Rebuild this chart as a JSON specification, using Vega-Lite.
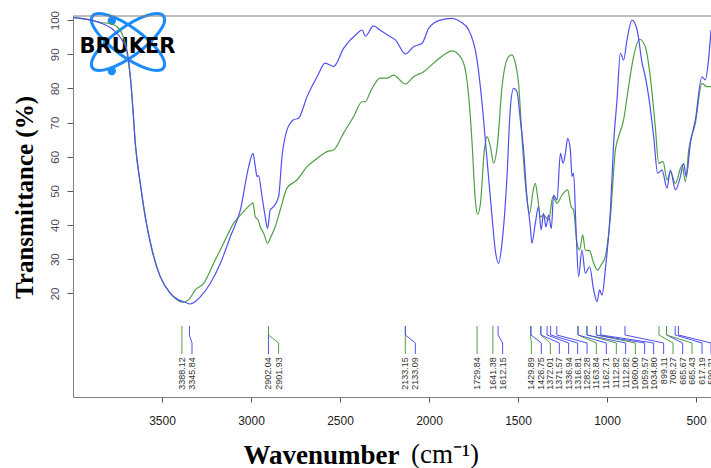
{
  "$schema": "https://vega.github.io/schema/vega-lite/v6.json",
  "width": 638,
  "height": 381,
  "autosize": {"type": "none"},
  "padding": {"left": 73, "top": 16, "right": 0, "bottom": 71},
  "background": "white",
  "config": {"view": {"stroke": null}, "font": "Liberation Sans"},
  "title": {
    "text": "(cm⁻¹)",
    "orient": "bottom",
    "anchor": "start",
    "frame": "group",
    "dx": 338,
    "offset": -5,
    "font": "Liberation Serif",
    "fontSize": 27,
    "fontWeight": "normal",
    "color": "black",
    "baseline": "alphabetic"
  },
  "datasets": {
    "spectra": [
      {"wn": 4000, "T": 100.8, "series": "Spectrum A"},
      {"wn": 3884, "T": 99.8, "series": "Spectrum A"},
      {"wn": 3847, "T": 99.3, "series": "Spectrum A"},
      {"wn": 3790, "T": 99.0, "series": "Spectrum A"},
      {"wn": 3753, "T": 98.1, "series": "Spectrum A"},
      {"wn": 3725, "T": 96.1, "series": "Spectrum A"},
      {"wn": 3706, "T": 93.2, "series": "Spectrum A"},
      {"wn": 3688, "T": 87.4, "series": "Spectrum A"},
      {"wn": 3678, "T": 83.4, "series": "Spectrum A"},
      {"wn": 3663, "T": 73.7, "series": "Spectrum A"},
      {"wn": 3650, "T": 63.9, "series": "Spectrum A"},
      {"wn": 3622, "T": 52.2, "series": "Spectrum A"},
      {"wn": 3594, "T": 42.4, "series": "Spectrum A"},
      {"wn": 3556, "T": 32.7, "series": "Spectrum A"},
      {"wn": 3510, "T": 24.9, "series": "Spectrum A"},
      {"wn": 3453, "T": 20.0, "series": "Spectrum A"},
      {"wn": 3416, "T": 18.1, "series": "Spectrum A"},
      {"wn": 3388, "T": 17.4, "series": "Spectrum A"},
      {"wn": 3351, "T": 18.1, "series": "Spectrum A"},
      {"wn": 3313, "T": 21.0, "series": "Spectrum A"},
      {"wn": 3266, "T": 22.9, "series": "Spectrum A"},
      {"wn": 3210, "T": 28.8, "series": "Spectrum A"},
      {"wn": 3154, "T": 34.7, "series": "Spectrum A"},
      {"wn": 3098, "T": 40.5, "series": "Spectrum A"},
      {"wn": 3051, "T": 43.4, "series": "Spectrum A"},
      {"wn": 3004, "T": 45.9, "series": "Spectrum A"},
      {"wn": 2989, "T": 46.5, "series": "Spectrum A"},
      {"wn": 2976, "T": 42.4, "series": "Spectrum A"},
      {"wn": 2960, "T": 41.5, "series": "Spectrum A"},
      {"wn": 2948, "T": 39.5, "series": "Spectrum A"},
      {"wn": 2929, "T": 37.6, "series": "Spectrum A"},
      {"wn": 2907, "T": 34.7, "series": "Spectrum A"},
      {"wn": 2888, "T": 36.6, "series": "Spectrum A"},
      {"wn": 2864, "T": 39.5, "series": "Spectrum A"},
      {"wn": 2836, "T": 44.4, "series": "Spectrum A"},
      {"wn": 2798, "T": 50.8, "series": "Spectrum A"},
      {"wn": 2742, "T": 53.2, "series": "Spectrum A"},
      {"wn": 2685, "T": 57.1, "series": "Spectrum A"},
      {"wn": 2629, "T": 59.5, "series": "Spectrum A"},
      {"wn": 2573, "T": 61.5, "series": "Spectrum A"},
      {"wn": 2536, "T": 62.0, "series": "Spectrum A"},
      {"wn": 2480, "T": 66.9, "series": "Spectrum A"},
      {"wn": 2424, "T": 71.7, "series": "Spectrum A"},
      {"wn": 2376, "T": 76.1, "series": "Spectrum A"},
      {"wn": 2358, "T": 76.1, "series": "Spectrum A"},
      {"wn": 2330, "T": 79.0, "series": "Spectrum A"},
      {"wn": 2274, "T": 83.0, "series": "Spectrum A"},
      {"wn": 2236, "T": 83.0, "series": "Spectrum A"},
      {"wn": 2199, "T": 83.9, "series": "Spectrum A"},
      {"wn": 2133, "T": 81.3, "series": "Spectrum A"},
      {"wn": 2087, "T": 83.4, "series": "Spectrum A"},
      {"wn": 2030, "T": 84.9, "series": "Spectrum A"},
      {"wn": 1974, "T": 87.4, "series": "Spectrum A"},
      {"wn": 1918, "T": 89.8, "series": "Spectrum A"},
      {"wn": 1871, "T": 91.0, "series": "Spectrum A"},
      {"wn": 1824, "T": 89.3, "series": "Spectrum A"},
      {"wn": 1796, "T": 85.4, "series": "Spectrum A"},
      {"wn": 1777, "T": 77.6, "series": "Spectrum A"},
      {"wn": 1758, "T": 63.9, "series": "Spectrum A"},
      {"wn": 1740, "T": 47.3, "series": "Spectrum A"},
      {"wn": 1727, "T": 43.2, "series": "Spectrum A"},
      {"wn": 1711, "T": 46.4, "series": "Spectrum A"},
      {"wn": 1689, "T": 62.0, "series": "Spectrum A"},
      {"wn": 1674, "T": 65.9, "series": "Spectrum A"},
      {"wn": 1655, "T": 62.9, "series": "Spectrum A"},
      {"wn": 1637, "T": 58.1, "series": "Spectrum A"},
      {"wn": 1615, "T": 63.9, "series": "Spectrum A"},
      {"wn": 1590, "T": 80.5, "series": "Spectrum A"},
      {"wn": 1553, "T": 89.3, "series": "Spectrum A"},
      {"wn": 1534, "T": 89.8, "series": "Spectrum A"},
      {"wn": 1515, "T": 87.4, "series": "Spectrum A"},
      {"wn": 1497, "T": 81.5, "series": "Spectrum A"},
      {"wn": 1478, "T": 65.9, "series": "Spectrum A"},
      {"wn": 1459, "T": 52.2, "series": "Spectrum A"},
      {"wn": 1435, "T": 43.4, "series": "Spectrum A"},
      {"wn": 1416, "T": 49.8, "series": "Spectrum A"},
      {"wn": 1403, "T": 52.2, "series": "Spectrum A"},
      {"wn": 1390, "T": 48.3, "series": "Spectrum A"},
      {"wn": 1374, "T": 42.4, "series": "Spectrum A"},
      {"wn": 1357, "T": 42.9, "series": "Spectrum A"},
      {"wn": 1328, "T": 41.5, "series": "Spectrum A"},
      {"wn": 1304, "T": 48.3, "series": "Spectrum A"},
      {"wn": 1281, "T": 46.4, "series": "Spectrum A"},
      {"wn": 1253, "T": 48.8, "series": "Spectrum A"},
      {"wn": 1221, "T": 50.3, "series": "Spectrum A"},
      {"wn": 1202, "T": 45.4, "series": "Spectrum A"},
      {"wn": 1188, "T": 44.4, "series": "Spectrum A"},
      {"wn": 1169, "T": 34.7, "series": "Spectrum A"},
      {"wn": 1154, "T": 32.7, "series": "Spectrum A"},
      {"wn": 1137, "T": 37.1, "series": "Spectrum A"},
      {"wn": 1122, "T": 32.7, "series": "Spectrum A"},
      {"wn": 1098, "T": 32.5, "series": "Spectrum A"},
      {"wn": 1075, "T": 28.8, "series": "Spectrum A"},
      {"wn": 1053, "T": 26.8, "series": "Spectrum A"},
      {"wn": 1034, "T": 28.3, "series": "Spectrum A"},
      {"wn": 1010, "T": 30.7, "series": "Spectrum A"},
      {"wn": 981, "T": 42.4, "series": "Spectrum A"},
      {"wn": 953, "T": 62.0, "series": "Spectrum A"},
      {"wn": 935, "T": 65.9, "series": "Spectrum A"},
      {"wn": 907, "T": 70.8, "series": "Spectrum A"},
      {"wn": 879, "T": 80.5, "series": "Spectrum A"},
      {"wn": 851, "T": 89.3, "series": "Spectrum A"},
      {"wn": 817, "T": 94.4, "series": "Spectrum A"},
      {"wn": 785, "T": 92.2, "series": "Spectrum A"},
      {"wn": 757, "T": 83.4, "series": "Spectrum A"},
      {"wn": 729, "T": 68.8, "series": "Spectrum A"},
      {"wn": 710, "T": 58.1, "series": "Spectrum A"},
      {"wn": 685, "T": 58.6, "series": "Spectrum A"},
      {"wn": 663, "T": 53.2, "series": "Spectrum A"},
      {"wn": 644, "T": 55.6, "series": "Spectrum A"},
      {"wn": 616, "T": 52.2, "series": "Spectrum A"},
      {"wn": 578, "T": 57.6, "series": "Spectrum A"},
      {"wn": 560, "T": 52.7, "series": "Spectrum A"},
      {"wn": 541, "T": 62.0, "series": "Spectrum A"},
      {"wn": 504, "T": 69.8, "series": "Spectrum A"},
      {"wn": 467, "T": 81.5, "series": "Spectrum A"},
      {"wn": 438, "T": 80.5, "series": "Spectrum A"},
      {"wn": 416, "T": 80.5, "series": "Spectrum A"},

      {"wn": 4000, "T": 100.8, "series": "Spectrum B"},
      {"wn": 3884, "T": 99.8, "series": "Spectrum B"},
      {"wn": 3847, "T": 99.2, "series": "Spectrum B"},
      {"wn": 3772, "T": 97.1, "series": "Spectrum B"},
      {"wn": 3725, "T": 94.2, "series": "Spectrum B"},
      {"wn": 3697, "T": 91.2, "series": "Spectrum B"},
      {"wn": 3678, "T": 83.4, "series": "Spectrum B"},
      {"wn": 3663, "T": 73.7, "series": "Spectrum B"},
      {"wn": 3650, "T": 63.9, "series": "Spectrum B"},
      {"wn": 3622, "T": 52.2, "series": "Spectrum B"},
      {"wn": 3594, "T": 42.4, "series": "Spectrum B"},
      {"wn": 3556, "T": 32.7, "series": "Spectrum B"},
      {"wn": 3510, "T": 24.9, "series": "Spectrum B"},
      {"wn": 3453, "T": 20.0, "series": "Spectrum B"},
      {"wn": 3407, "T": 18.1, "series": "Spectrum B"},
      {"wn": 3369, "T": 17.4, "series": "Spectrum B"},
      {"wn": 3341, "T": 16.9, "series": "Spectrum B"},
      {"wn": 3322, "T": 17.3, "series": "Spectrum B"},
      {"wn": 3285, "T": 19.0, "series": "Spectrum B"},
      {"wn": 3229, "T": 22.9, "series": "Spectrum B"},
      {"wn": 3172, "T": 28.8, "series": "Spectrum B"},
      {"wn": 3116, "T": 36.6, "series": "Spectrum B"},
      {"wn": 3060, "T": 44.4, "series": "Spectrum B"},
      {"wn": 3013, "T": 57.1, "series": "Spectrum B"},
      {"wn": 2989, "T": 61.0, "series": "Spectrum B"},
      {"wn": 2976, "T": 57.1, "series": "Spectrum B"},
      {"wn": 2966, "T": 54.2, "series": "Spectrum B"},
      {"wn": 2958, "T": 54.5, "series": "Spectrum B"},
      {"wn": 2938, "T": 48.3, "series": "Spectrum B"},
      {"wn": 2920, "T": 42.4, "series": "Spectrum B"},
      {"wn": 2907, "T": 39.0, "series": "Spectrum B"},
      {"wn": 2892, "T": 44.4, "series": "Spectrum B"},
      {"wn": 2873, "T": 45.4, "series": "Spectrum B"},
      {"wn": 2845, "T": 48.3, "series": "Spectrum B"},
      {"wn": 2826, "T": 60.0, "series": "Spectrum B"},
      {"wn": 2798, "T": 67.8, "series": "Spectrum B"},
      {"wn": 2761, "T": 70.8, "series": "Spectrum B"},
      {"wn": 2733, "T": 71.3, "series": "Spectrum B"},
      {"wn": 2685, "T": 77.6, "series": "Spectrum B"},
      {"wn": 2629, "T": 83.4, "series": "Spectrum B"},
      {"wn": 2583, "T": 87.4, "series": "Spectrum B"},
      {"wn": 2536, "T": 86.4, "series": "Spectrum B"},
      {"wn": 2480, "T": 91.7, "series": "Spectrum B"},
      {"wn": 2404, "T": 96.1, "series": "Spectrum B"},
      {"wn": 2376, "T": 97.1, "series": "Spectrum B"},
      {"wn": 2358, "T": 95.3, "series": "Spectrum B"},
      {"wn": 2311, "T": 98.3, "series": "Spectrum B"},
      {"wn": 2274, "T": 97.0, "series": "Spectrum B"},
      {"wn": 2217, "T": 95.1, "series": "Spectrum B"},
      {"wn": 2189, "T": 94.2, "series": "Spectrum B"},
      {"wn": 2133, "T": 90.1, "series": "Spectrum B"},
      {"wn": 2087, "T": 92.2, "series": "Spectrum B"},
      {"wn": 2039, "T": 93.2, "series": "Spectrum B"},
      {"wn": 2002, "T": 97.6, "series": "Spectrum B"},
      {"wn": 1937, "T": 100.0, "series": "Spectrum B"},
      {"wn": 1871, "T": 100.5, "series": "Spectrum B"},
      {"wn": 1824, "T": 99.5, "series": "Spectrum B"},
      {"wn": 1777, "T": 97.1, "series": "Spectrum B"},
      {"wn": 1730, "T": 88.3, "series": "Spectrum B"},
      {"wn": 1702, "T": 75.6, "series": "Spectrum B"},
      {"wn": 1674, "T": 59.0, "series": "Spectrum B"},
      {"wn": 1646, "T": 42.4, "series": "Spectrum B"},
      {"wn": 1628, "T": 32.7, "series": "Spectrum B"},
      {"wn": 1609, "T": 28.8, "series": "Spectrum B"},
      {"wn": 1590, "T": 34.7, "series": "Spectrum B"},
      {"wn": 1562, "T": 54.2, "series": "Spectrum B"},
      {"wn": 1544, "T": 73.7, "series": "Spectrum B"},
      {"wn": 1525, "T": 80.0, "series": "Spectrum B"},
      {"wn": 1506, "T": 79.0, "series": "Spectrum B"},
      {"wn": 1487, "T": 70.8, "series": "Spectrum B"},
      {"wn": 1469, "T": 62.0, "series": "Spectrum B"},
      {"wn": 1450, "T": 48.3, "series": "Spectrum B"},
      {"wn": 1431, "T": 39.5, "series": "Spectrum B"},
      {"wn": 1422, "T": 34.7, "series": "Spectrum B"},
      {"wn": 1403, "T": 40.5, "series": "Spectrum B"},
      {"wn": 1385, "T": 45.4, "series": "Spectrum B"},
      {"wn": 1370, "T": 38.6, "series": "Spectrum B"},
      {"wn": 1357, "T": 43.4, "series": "Spectrum B"},
      {"wn": 1343, "T": 39.5, "series": "Spectrum B"},
      {"wn": 1328, "T": 42.9, "series": "Spectrum B"},
      {"wn": 1313, "T": 39.0, "series": "Spectrum B"},
      {"wn": 1300, "T": 48.8, "series": "Spectrum B"},
      {"wn": 1281, "T": 47.3, "series": "Spectrum B"},
      {"wn": 1262, "T": 61.0, "series": "Spectrum B"},
      {"wn": 1247, "T": 58.1, "series": "Spectrum B"},
      {"wn": 1234, "T": 61.0, "series": "Spectrum B"},
      {"wn": 1221, "T": 65.4, "series": "Spectrum B"},
      {"wn": 1206, "T": 62.0, "series": "Spectrum B"},
      {"wn": 1197, "T": 54.2, "series": "Spectrum B"},
      {"wn": 1188, "T": 55.2, "series": "Spectrum B"},
      {"wn": 1174, "T": 38.6, "series": "Spectrum B"},
      {"wn": 1160, "T": 24.9, "series": "Spectrum B"},
      {"wn": 1141, "T": 32.7, "series": "Spectrum B"},
      {"wn": 1122, "T": 25.9, "series": "Spectrum B"},
      {"wn": 1098, "T": 27.8, "series": "Spectrum B"},
      {"wn": 1075, "T": 21.0, "series": "Spectrum B"},
      {"wn": 1056, "T": 17.6, "series": "Spectrum B"},
      {"wn": 1042, "T": 21.0, "series": "Spectrum B"},
      {"wn": 1028, "T": 19.5, "series": "Spectrum B"},
      {"wn": 1010, "T": 26.8, "series": "Spectrum B"},
      {"wn": 981, "T": 44.4, "series": "Spectrum B"},
      {"wn": 963, "T": 63.9, "series": "Spectrum B"},
      {"wn": 944, "T": 76.6, "series": "Spectrum B"},
      {"wn": 925, "T": 90.3, "series": "Spectrum B"},
      {"wn": 907, "T": 88.3, "series": "Spectrum B"},
      {"wn": 888, "T": 94.2, "series": "Spectrum B"},
      {"wn": 860, "T": 100.0, "series": "Spectrum B"},
      {"wn": 831, "T": 97.1, "series": "Spectrum B"},
      {"wn": 803, "T": 87.4, "series": "Spectrum B"},
      {"wn": 785, "T": 83.4, "series": "Spectrum B"},
      {"wn": 766, "T": 77.6, "series": "Spectrum B"},
      {"wn": 738, "T": 65.9, "series": "Spectrum B"},
      {"wn": 716, "T": 55.2, "series": "Spectrum B"},
      {"wn": 691, "T": 56.1, "series": "Spectrum B"},
      {"wn": 663, "T": 50.8, "series": "Spectrum B"},
      {"wn": 644, "T": 56.1, "series": "Spectrum B"},
      {"wn": 616, "T": 50.3, "series": "Spectrum B"},
      {"wn": 588, "T": 54.2, "series": "Spectrum B"},
      {"wn": 570, "T": 58.1, "series": "Spectrum B"},
      {"wn": 555, "T": 54.2, "series": "Spectrum B"},
      {"wn": 532, "T": 63.9, "series": "Spectrum B"},
      {"wn": 504, "T": 70.8, "series": "Spectrum B"},
      {"wn": 467, "T": 83.4, "series": "Spectrum B"},
      {"wn": 448, "T": 82.5, "series": "Spectrum B"},
      {"wn": 430, "T": 88.3, "series": "Spectrum B"},
      {"wn": 416, "T": 97.1, "series": "Spectrum B"}
    ],
    "peaks": [
      {"peak": 3388.12, "pos": 3388.12, "label": "3388.12", "series": "Spectrum A"},
      {"peak": 3345.84, "pos": 3331.5, "label": "3345.84", "series": "Spectrum B"},
      {"peak": 2902.04, "pos": 2902.04, "label": "2902.04", "series": "Spectrum B"},
      {"peak": 2901.93, "pos": 2845, "label": "2901.93", "series": "Spectrum A"},
      {"peak": 2133.15, "pos": 2133.15, "label": "2133.15", "series": "Spectrum A"},
      {"peak": 2133.09, "pos": 2077, "label": "2133.09", "series": "Spectrum B"},
      {"peak": 1729.84, "pos": 1729.84, "label": "1729.84", "series": "Spectrum A"},
      {"peak": 1641.38, "pos": 1641.38, "label": "1641.38", "series": "Spectrum A"},
      {"peak": 1612.15, "pos": 1586.5, "label": "1612.15", "series": "Spectrum B"},
      {"peak": 1429.89, "pos": 1425.3, "label": "1429.89", "series": "Spectrum A"},
      {"peak": 1426.75, "pos": 1369.1, "label": "1426.75", "series": "Spectrum B"},
      {"peak": 1372.01, "pos": 1318.5, "label": "1372.01", "series": "Spectrum A"},
      {"peak": 1371.57, "pos": 1268, "label": "1371.57", "series": "Spectrum B"},
      {"peak": 1336.94, "pos": 1215.7, "label": "1336.94", "series": "Spectrum B"},
      {"peak": 1316.81, "pos": 1165.2, "label": "1316.81", "series": "Spectrum B"},
      {"peak": 1282.28, "pos": 1112.4, "label": "1282.28", "series": "Spectrum B"},
      {"peak": 1163.84, "pos": 1060.1, "label": "1163.84", "series": "Spectrum A"},
      {"peak": 1162.71, "pos": 1004, "label": "1162.71", "series": "Spectrum B"},
      {"peak": 1112.82, "pos": 947.8, "label": "1112.82", "series": "Spectrum A"},
      {"peak": 1112.82, "pos": 895.5, "label": "1112.82", "series": "Spectrum B"},
      {"peak": 1060.0, "pos": 841, "label": "1060.00", "series": "Spectrum A"},
      {"peak": 1059.57, "pos": 788.8, "label": "1059.57", "series": "Spectrum B"},
      {"peak": 1034.8, "pos": 738.2, "label": "1034.80", "series": "Spectrum B"},
      {"peak": 899.11, "pos": 682, "label": "899.11", "series": "Spectrum B"},
      {"peak": 708.27, "pos": 629.2, "label": "708.27", "series": "Spectrum A"},
      {"peak": 665.67, "pos": 575.3, "label": "665.67", "series": "Spectrum B"},
      {"peak": 665.43, "pos": 522.5, "label": "665.43", "series": "Spectrum A"},
      {"peak": 617.19, "pos": 466.3, "label": "617.19", "series": "Spectrum B"},
      {"peak": 599.21, "pos": 415.7, "label": "599.21", "series": "Spectrum B"}
    ]
  },
  "layer": [
    {
      "data": {"name": "spectra"},
      "mark": {"type": "line", "opacity": 0},
      "encoding": {
        "x": {
          "field": "wn", "type": "quantitative", "title": "Wavenumber",
          "scale": {"domain": [4000, 416], "nice": false, "zero": false},
          "axis": {
            "values": [3500, 3000, 2500, 2000, 1500, 1000, 500],
            "format": "d",
            "grid": false,
            "domain": true, "domainColor": "#808080",
            "ticks": true, "tickSize": 5, "tickColor": "#555555",
            "labelFontSize": 12, "labelColor": "#1a1a1a", "labelPadding": 13,
            "labelFlush": false, "labelOverlap": false, "labelAngle": 0,
            "titleFont": "Liberation Serif", "titleFontSize": 27, "titleFontWeight": "bold", "titleColor": "black",
            "titleX": 170, "titleY": 66, "titleAlign": "left", "titleBaseline": "alphabetic"
          }
        },
        "y": {
          "field": "T", "type": "quantitative", "title": "Transmittance (%)",
          "scale": {"domain": [-10.33, 101.2], "nice": false, "zero": false},
          "axis": {
            "values": [20, 30, 40, 50, 60, 70, 80, 90, 100],
            "grid": false,
            "domain": true, "domainColor": "#808080",
            "ticks": true, "tickSize": 6, "tickColor": "#555555",
            "labelAngle": 270, "labelAlign": "center", "labelBaseline": "bottom",
            "labelFontSize": 11.5, "labelColor": "#4a4a5a", "labelPadding": 7,
            "titleFont": "Liberation Serif", "titleFontSize": 25, "titleFontWeight": "bold", "titleColor": "black",
            "titleX": -49, "titleY": 181, "titleAngle": 270, "titleAlign": "center", "titleBaseline": "middle"
          }
        },
        "detail": {"field": "series", "type": "nominal"}
      }
    },
    {
      "data": {"values": [{}]},
      "mark": {
        "type": "point",
        "shape": "M -1 0 C -1 -0.1823 -0.5523 -0.33 0 -0.33 C 0.5523 -0.33 1 -0.1823 1 0 C 1 0.1823 0.5523 0.33 0 0.33 C -0.5523 0.33 -1 0.1823 -1 0 Z",
        "filled": false, "stroke": "#1a8cff", "strokeWidth": 3, "opacity": 1,
        "size": 7744, "angle": 36
      },
      "encoding": {
        "x": {"datum": 3691, "type": "quantitative", "title": "Wavenumber"},
        "y": {"datum": 93.6, "type": "quantitative", "title": "Transmittance (%)"}
      }
    },
    {
      "data": {"values": [{}]},
      "mark": {
        "type": "point",
        "shape": "M -1 0 C -1 -0.1823 -0.5523 -0.33 0 -0.33 C 0.5523 -0.33 1 -0.1823 1 0 C 1 0.1823 0.5523 0.33 0 0.33 C -0.5523 0.33 -1 0.1823 -1 0 Z",
        "filled": false, "stroke": "#1a8cff", "strokeWidth": 3, "opacity": 1,
        "size": 7744, "angle": -36
      },
      "encoding": {
        "x": {"datum": 3691, "type": "quantitative", "title": "Wavenumber"},
        "y": {"datum": 93.6, "type": "quantitative", "title": "Transmittance (%)"}
      }
    },
    {
      "data": {"values": [{"T": 99.8}, {"T": 85.1}]},
      "mark": {"type": "point", "shape": "circle", "filled": true, "color": "#1a8cff", "opacity": 1, "size": 70},
      "encoding": {
        "x": {"datum": 3782, "type": "quantitative", "title": "Wavenumber"},
        "y": {"field": "T", "type": "quantitative", "title": "Transmittance (%)"}
      }
    },
    {
      "data": {"values": [{}]},
      "mark": {"type": "text", "text": "BRUKER", "font": "DejaVu Sans", "fontWeight": "bold", "fontSize": 21, "color": "black", "align": "center", "baseline": "middle"},
      "encoding": {
        "x": {"datum": 3694, "type": "quantitative", "title": "Wavenumber"},
        "y": {"datum": 92.2, "type": "quantitative", "title": "Transmittance (%)"}
      }
    },
    {
      "data": {"name": "spectra"},
      "mark": {"type": "line", "strokeWidth": 1.2, "interpolate": "monotone"},
      "encoding": {
        "x": {"field": "wn", "type": "quantitative", "title": "Wavenumber"},
        "y": {"field": "T", "type": "quantitative", "title": "Transmittance (%)"},
        "color": {
          "field": "series", "type": "nominal",
          "scale": {"domain": ["Spectrum A", "Spectrum B"], "range": ["#4f9f45", "#5050f0"]},
          "legend": null
        }
      }
    },
    {
      "data": {"values": [{}]},
      "mark": {"type": "rule", "color": "#808080", "strokeWidth": 1},
      "encoding": {
        "y": {"datum": 101.2, "type": "quantitative", "title": "Transmittance (%)"}
      }
    },
    {
      "data": {"name": "peaks"},
      "mark": {"type": "rule", "strokeWidth": 1},
      "encoding": {
        "x": {"field": "peak", "type": "quantitative", "title": "Wavenumber"},
        "y": {"datum": 10.45, "type": "quantitative", "title": "Transmittance (%)"},
        "y2": {"datum": 7.82},
        "color": {"field": "series", "type": "nominal", "legend": null}
      }
    },
    {
      "data": {"name": "peaks"},
      "mark": {"type": "rule", "strokeWidth": 1},
      "encoding": {
        "x": {"field": "peak", "type": "quantitative", "title": "Wavenumber"},
        "x2": {"field": "pos"},
        "y": {"datum": 7.82, "type": "quantitative", "title": "Transmittance (%)"},
        "y2": {"datum": 5.48},
        "color": {"field": "series", "type": "nominal", "legend": null}
      }
    },
    {
      "data": {"name": "peaks"},
      "mark": {"type": "rule", "strokeWidth": 1},
      "encoding": {
        "x": {"field": "pos", "type": "quantitative", "title": "Wavenumber"},
        "y": {"datum": 5.48, "type": "quantitative", "title": "Transmittance (%)"},
        "y2": {"datum": 2.26},
        "color": {"field": "series", "type": "nominal", "legend": null}
      }
    },
    {
      "data": {"name": "peaks"},
      "mark": {"type": "text", "angle": 270, "align": "right", "baseline": "middle", "fontSize": 9, "color": "#333333"},
      "encoding": {
        "x": {"field": "pos", "type": "quantitative", "title": "Wavenumber"},
        "y": {"datum": 1.3, "type": "quantitative", "title": "Transmittance (%)"},
        "text": {"field": "label"}
      }
    }
  ]
}
